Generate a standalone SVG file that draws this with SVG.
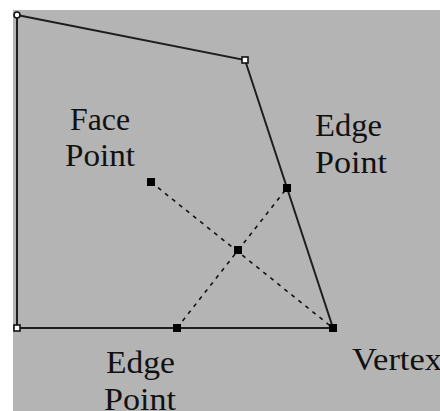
<svg xmlns="http://www.w3.org/2000/svg" width="440" height="411" viewBox="0 0 440 411">
<style>
.bg{fill:#b4b4b4}
.edge{fill:none;stroke:#1e1e1e;stroke-width:2}
.dash{fill:none;stroke:#111;stroke-width:1.6;stroke-dasharray:4 5}
.pt{fill:#000}
.open{fill:#fff;stroke:#111;stroke-width:1.6}
text{font-family:"Liberation Serif","DejaVu Serif",serif;font-size:31px;fill:#111}
</style>
<rect x="0" y="0" width="440" height="411" fill="#fff"/>
<rect class="bg" x="13" y="10" width="427" height="401"/>
<g id="connectors">
<polyline class="edge" points="17,15 245,60 333,328 17,328 17,15"/>
<line class="dash" x1="151" y1="182" x2="333" y2="328"/>
<line class="dash" x1="177" y1="328" x2="287" y2="188"/>
</g>
<g id="v-topleft"><circle class="open" cx="17" cy="15" r="3"/></g>
<g id="v-topright"><rect class="open" x="242" y="57" width="6" height="6"/></g>
<g id="v-bottomleft"><rect class="open" x="14" y="325" width="6" height="6"/></g>
<g id="vertex"><rect class="pt" x="329" y="324" width="8" height="8"/></g>
<g id="edge-bottom"><rect class="pt" x="173" y="324" width="8" height="8"/></g>
<g id="edge-right"><rect class="pt" x="283" y="184" width="8" height="8"/></g>
<g id="face-point"><rect class="pt" x="147" y="178" width="8" height="8"/></g>
<g id="center"><rect class="pt" x="234" y="246" width="8" height="8"/></g>
<g id="label-face"><text x="70" y="130" textLength="60" lengthAdjust="spacingAndGlyphs">Face</text><text x="65" y="166" textLength="70" lengthAdjust="spacingAndGlyphs">Point</text></g>
<g id="label-edge-right"><text x="315" y="136" textLength="67" lengthAdjust="spacingAndGlyphs">Edge</text><text x="315" y="173" textLength="72" lengthAdjust="spacingAndGlyphs">Point</text></g>
<g id="label-edge-bottom"><text x="106" y="373" textLength="69" lengthAdjust="spacingAndGlyphs">Edge</text><text x="104" y="410" textLength="72" lengthAdjust="spacingAndGlyphs">Point</text></g>
<g id="label-vertex"><text x="352" y="370" textLength="90" lengthAdjust="spacingAndGlyphs">Vertex</text></g>
</svg>
